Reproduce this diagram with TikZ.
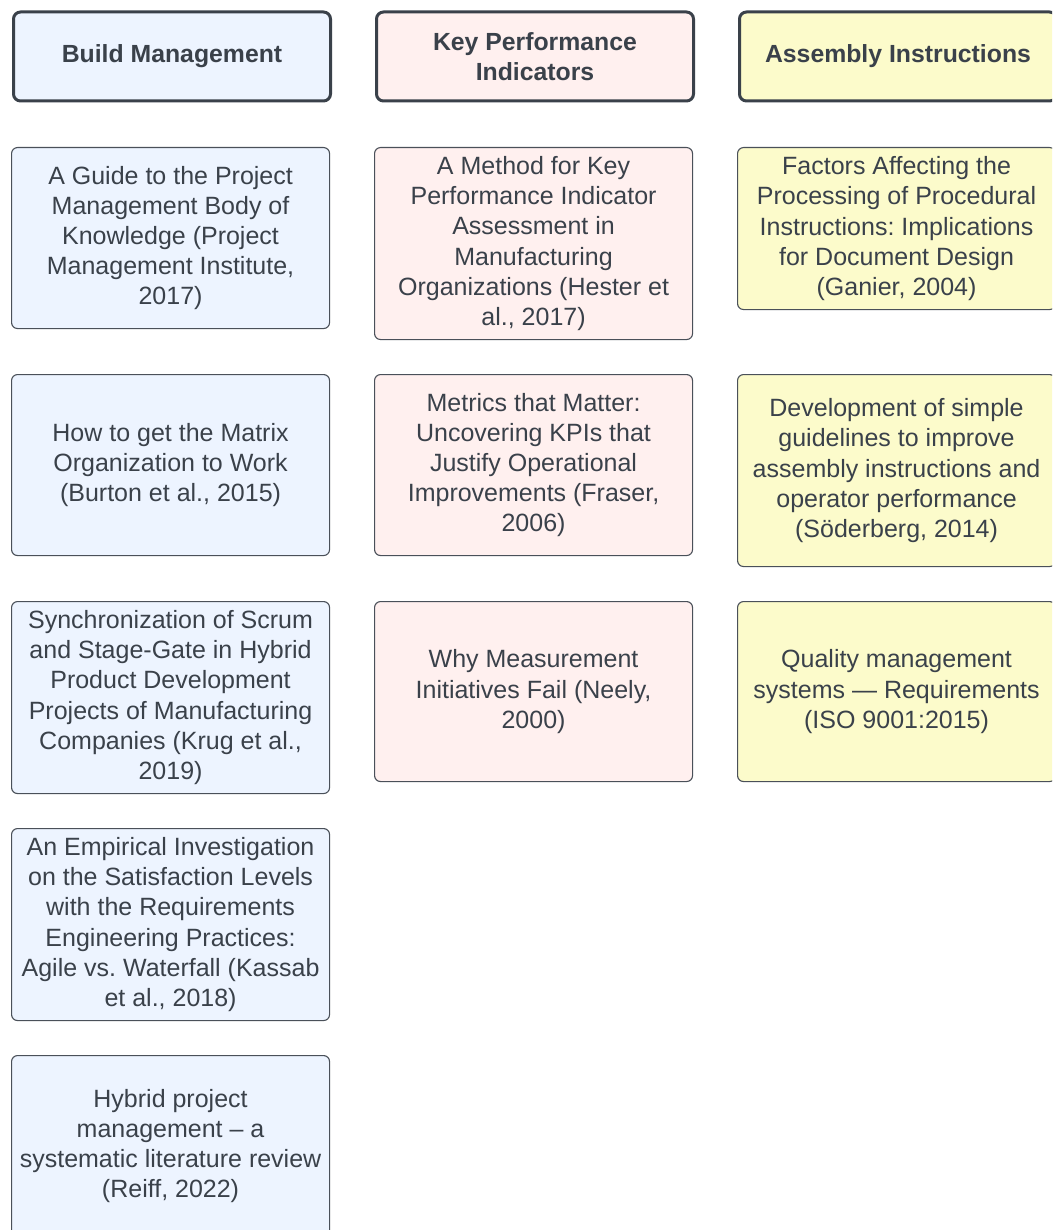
\documentclass[tikz,border=0pt]{standalone}
\usepackage{fontspec}
\setmainfont{Liberation Sans}
\frenchspacing
\definecolor{ink}{HTML}{3A414A}
\definecolor{edge}{HTML}{4A5059}
\definecolor{bmfill}{HTML}{EDF4FF}
\definecolor{kpifill}{HTML}{FFF0EF}
\definecolor{aifill}{HTML}{FCFBCB}
\tikzset{
  header/.style={draw=ink, line width=3pt, rounded corners=7pt, anchor=north west,
    minimum width=317pt, minimum height=89pt, align=center, text=ink,
    font=\bfseries\fontsize{24.8}{30}\selectfont, inner sep=2pt},
  card/.style={draw=edge, line width=1.1pt, rounded corners=6pt, anchor=north west,
    minimum width=318pt, align=center, text=ink,
    font=\fontsize{25}{30.2}\selectfont, inner sep=2pt},
  bm/.style={fill=bmfill},
  kpi/.style={fill=kpifill},
  ai/.style={fill=aifill}
}
\begin{document}
\begin{tikzpicture}[x=1pt, y=-1pt]
\clip (0,0) rectangle (1052,1230);
\fill[white] (0,0) rectangle (1052,1230);

% column headers
\node[header, bm]  (hbm)  at (12,10.5)  {Build Management};
\node[header, kpi] (hkpi) at (375,10.5) {Key Performance\\Indicators};
\node[header, ai]  (hai)  at (738,10.5) {Assembly Instructions};

% Build Management column
\node[card, bm, minimum height=181pt] (bm1) at (11,147)
  {A Guide to the Project\\Management Body of\\Knowledge (Project\\Management Institute,\\2017)};
\node[card, bm, minimum height=181pt] (bm2) at (11,374)
  {How to get the Matrix\\Organization to Work\\(Burton et al., 2015)};
\node[card, bm, minimum height=192pt] (bm3) at (11,601)
  {Synchronization of Scrum\\and Stage-Gate in Hybrid\\Product Development\\Projects of Manufacturing\\Companies (Krug et al.,\\2019)};
\node[card, bm, minimum height=192pt] (bm4) at (11,828)
  {An Empirical Investigation\\on the Satisfaction Levels\\with the Requirements\\Engineering Practices:\\Agile vs. Waterfall (Kassab\\et al., 2018)};
\node[card, bm, minimum height=181pt] (bm5) at (11,1055)
  {Hybrid project\\management -- a\\systematic literature review\\(Reiff, 2022)};

% Key Performance Indicators column
\node[card, kpi, minimum height=192pt] (kpi1) at (374,147)
  {A Method for Key\\Performance Indicator\\Assessment in\\Manufacturing\\Organizations (Hester et\\al., 2017)};
\node[card, kpi, minimum height=181pt] (kpi2) at (374,374)
  {Metrics that Matter:\\Uncovering KPIs that\\Justify Operational\\Improvements (Fraser,\\2006)};
\node[card, kpi, minimum height=180pt] (kpi3) at (374,601)
  {Why Measurement\\Initiatives Fail (Neely,\\2000)};

% Assembly Instructions column
\node[card, ai, minimum height=162pt] (ai1) at (737,147)
  {Factors Affecting the\\Processing of Procedural\\Instructions: Implications\\for Document Design\\(Ganier, 2004)};
\node[card, ai, minimum height=192pt] (ai2) at (737,374)
  {Development of simple\\guidelines to improve\\assembly instructions and\\operator performance\\(Söderberg, 2014)};
\node[card, ai, minimum height=180pt] (ai3) at (737,601)
  {Quality management\\systems --- Requirements\\(ISO 9001:2015)};
\end{tikzpicture}
\end{document}
